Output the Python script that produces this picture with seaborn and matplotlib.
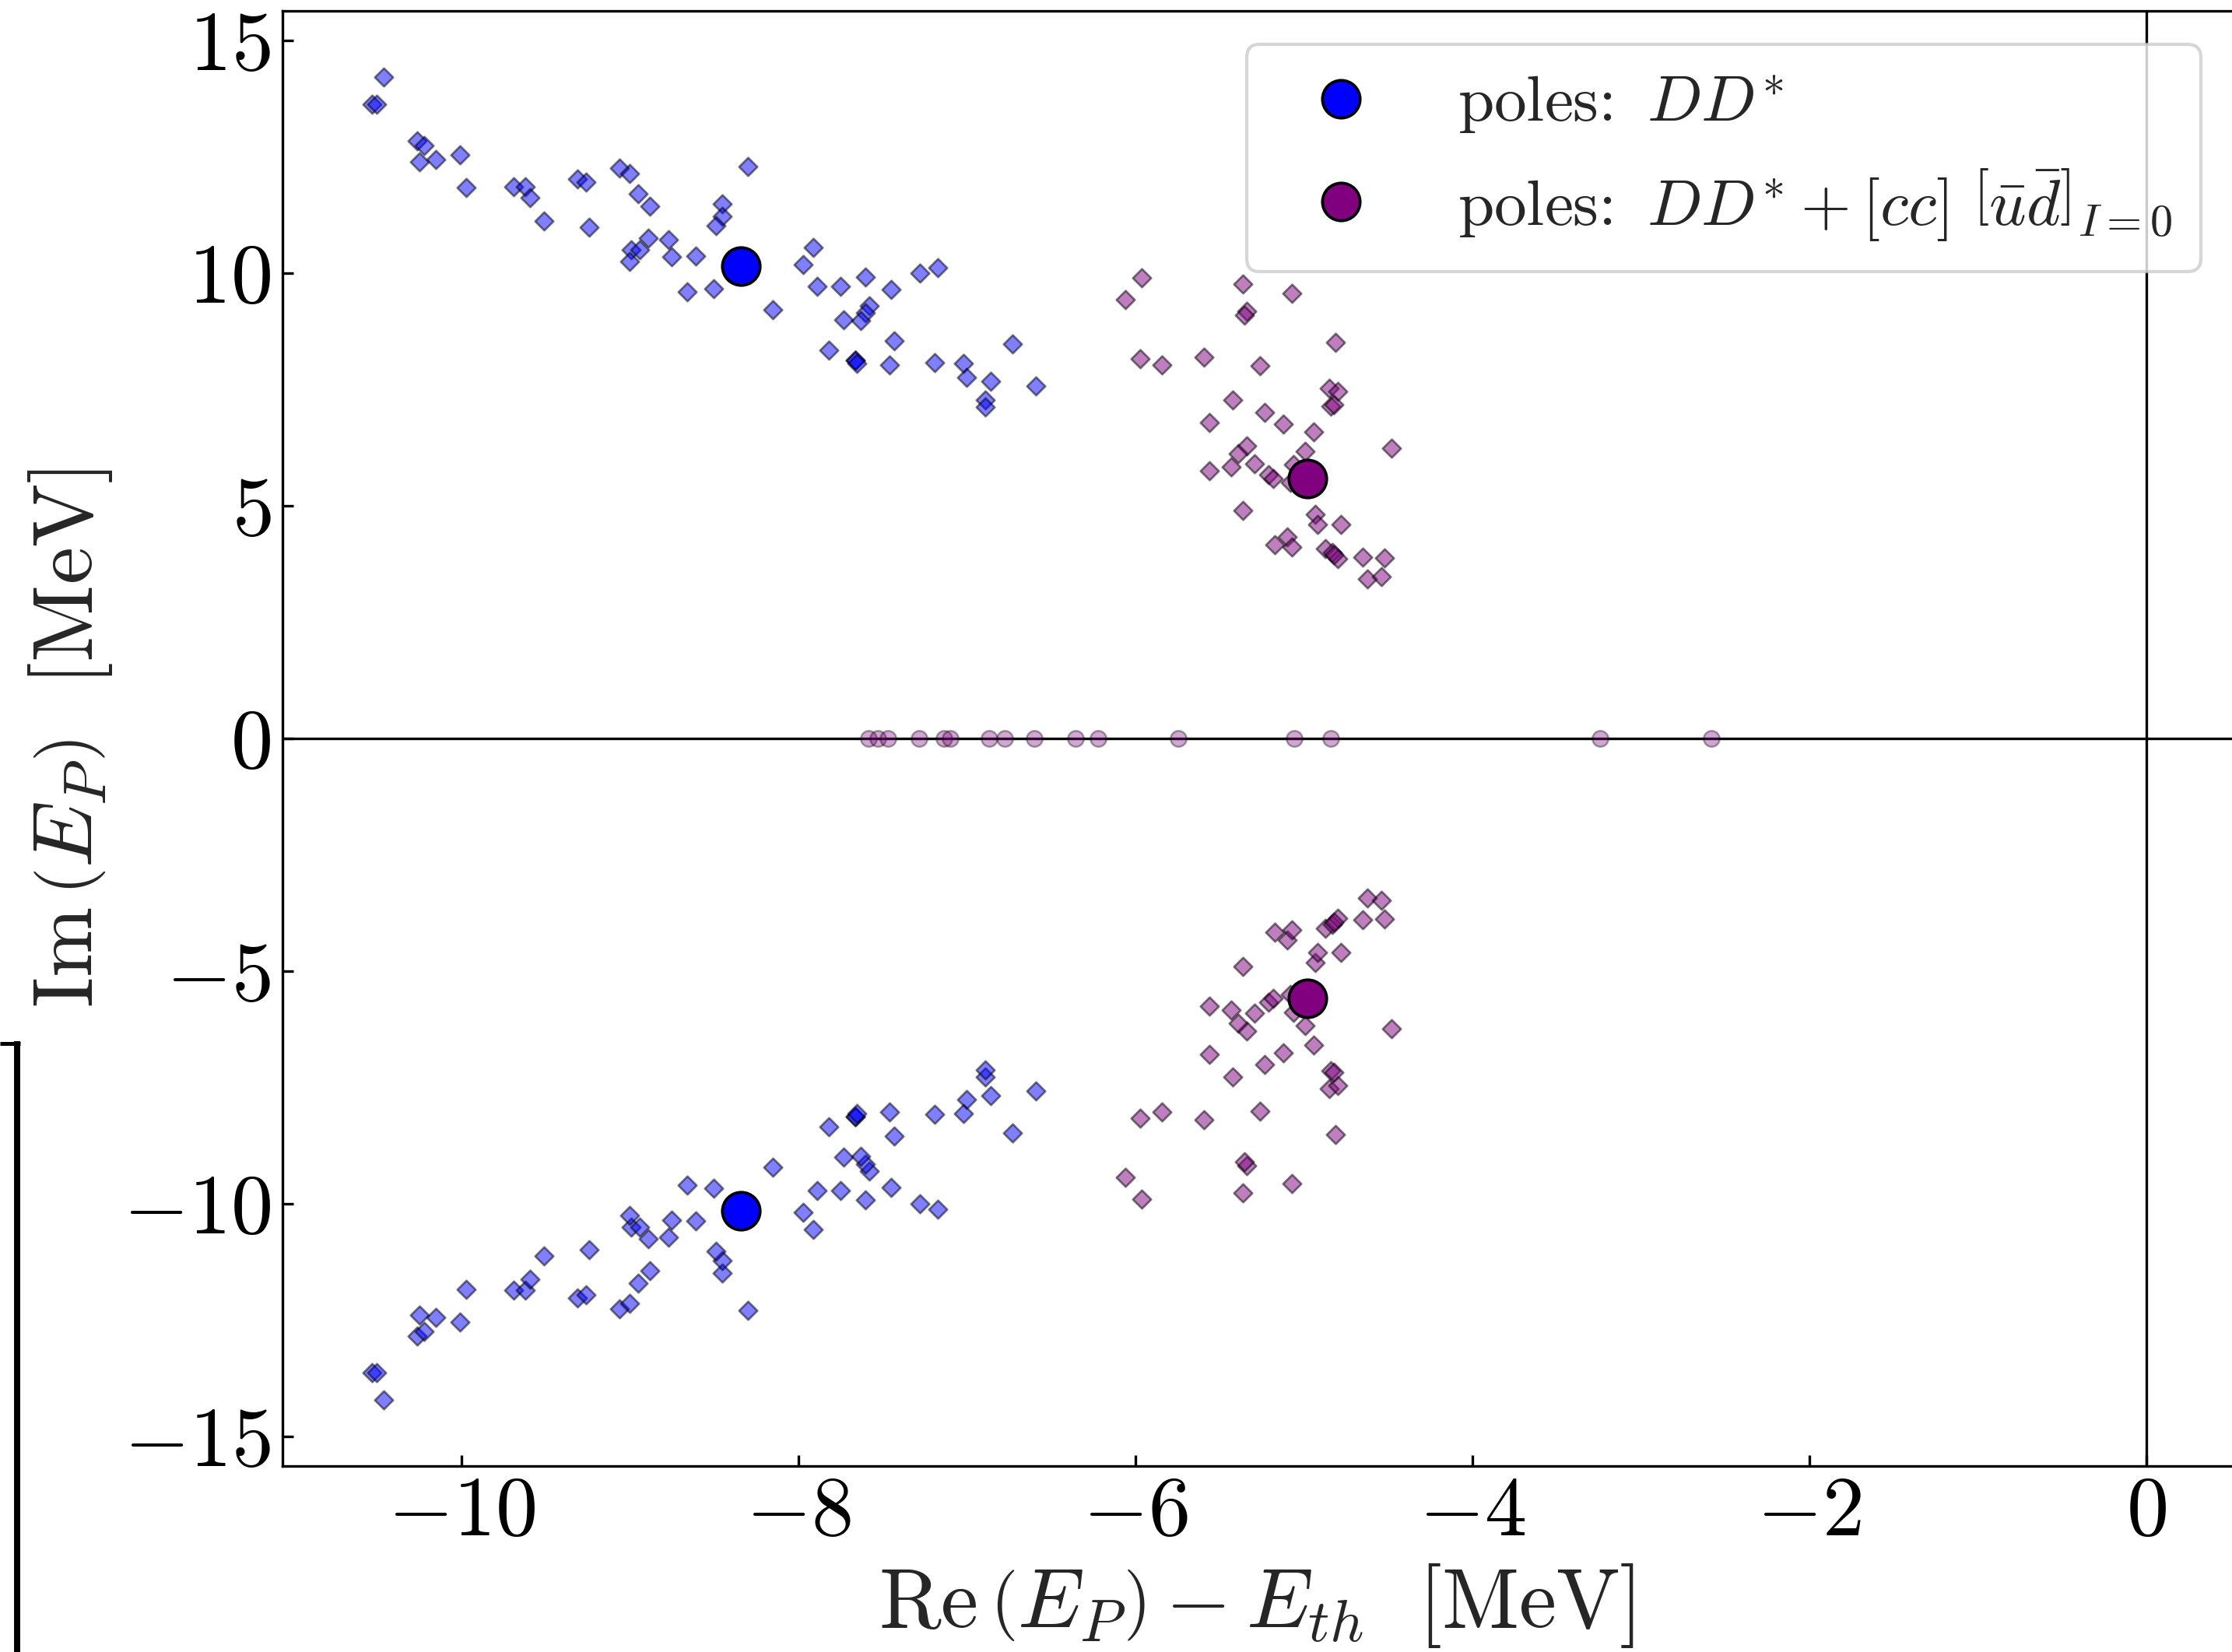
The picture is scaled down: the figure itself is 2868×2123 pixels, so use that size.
import numpy as np
import pandas as pd
import matplotlib
matplotlib.use("Agg")
import matplotlib.pyplot as plt
from matplotlib.lines import Line2D
import seaborn as sns

# ---------------- data (upper half-plane; lower half are the conjugate poles) ----------------
dd_re = [-10.46, -10.53, -10.50, -10.26, -10.22, -10.25, -10.15, -10.01, -9.97, -9.69,
         -9.62, -9.59, -9.51, -9.31, -9.26, -9.24, -9.06, -9.00, -8.95, -8.88,
         -8.89, -8.77, -8.99, -8.94, -9.00, -8.75, -8.61, -8.66, -8.50, -8.30,
         -8.45, -8.45, -8.49, -8.15, -7.91, -7.97, -7.89, -7.75, -7.60, -7.45,
         -7.28, -7.17, -7.58, -7.60, -7.63, -7.73, -7.82, -7.66, -7.66, -7.65,
         -7.43, -7.46, -7.19, -7.02, -7.00, -6.86, -6.89, -6.89, -6.73, -6.59]
dd_im = [14.21, 13.62, 13.62, 12.83, 12.73, 12.39, 12.43, 12.53, 11.84, 11.85,
         11.85, 11.62, 11.11, 12.02, 11.95, 10.98, 12.25, 12.13, 11.70, 11.44,
         10.75, 10.71, 10.49, 10.49, 10.24, 10.35, 10.36, 9.59, 9.66, 12.29,
         11.49, 11.21, 11.01, 9.21, 10.54, 10.18, 9.71, 9.72, 9.91, 9.64,
         10.00, 10.12, 9.30, 9.14, 8.97, 9.00, 8.34, 8.13, 8.13, 8.06,
         8.55, 8.02, 8.07, 8.06, 7.76, 7.68, 7.28, 7.12, 8.48, 7.57]

tq_re = [-5.96, -6.06, -5.36, -5.34, -5.35, -5.07, -4.81, -5.97, -5.84, -5.59,
         -5.26, -4.85, -4.80, -4.84, -4.82, -5.42, -5.23, -5.56, -5.12, -4.94,
         -4.48, -5.34, -5.39, -4.99, -5.06, -5.56, -5.43, -5.29, -5.21, -5.18,
         -5.08, -5.36, -4.93, -4.92, -4.78, -5.10, -5.17, -5.07, -4.87, -4.83,
         -4.80, -4.82, -4.65, -4.52, -4.62, -4.54]
tq_im = [9.89, 9.43, 9.77, 9.18, 9.10, 9.56, 8.51, 8.15, 8.03, 8.19,
         8.00, 7.53, 7.45, 7.14, 7.17, 7.28, 7.00, 6.78, 6.76, 6.58,
         6.24, 6.28, 6.11, 6.17, 5.89, 5.75, 5.84, 5.90, 5.67, 5.58,
         5.50, 4.89, 4.82, 4.59, 4.59, 4.33, 4.17, 4.12, 4.08, 4.00,
         3.86, 3.94, 3.90, 3.87, 3.42, 3.48]

# virtual-state poles on the real axis
real_re = [-7.585, -7.527, -7.469, -7.281, -7.134, -7.100, -6.868, -6.776, -6.601,
           -6.355, -6.222, -5.744, -5.057, -4.838, -3.240, -2.580]
real_im = [0.0] * len(real_re)

# central poles
pole_dd = (-8.34, 10.14)
pole_tq = (-4.98, 5.59)

legend_labels = [r"poles: $\,DD^{*}$",
                 r"poles: $\,DD^{*}+[cc]\ \left[\bar{u}\bar{d}\right]_{I=0}$"]

xticks = [-10, -8, -6, -4, -2, 0]
yticks = [-15, -10, -5, 0, 5, 10, 15]

# ---------------- tables ----------------
df_dd = pd.DataFrame({"re": dd_re + dd_re, "im": dd_im + [-v for v in dd_im]})
df_tq = pd.DataFrame({"re": tq_re + tq_re, "im": tq_im + [-v for v in tq_im]})
df_real = pd.DataFrame({"re": real_re, "im": real_im})
df_pdd = pd.DataFrame({"re": [pole_dd[0], pole_dd[0]], "im": [pole_dd[1], -pole_dd[1]]})
df_ptq = pd.DataFrame({"re": [pole_tq[0], pole_tq[0]], "im": [pole_tq[1], -pole_tq[1]]})

# ---------------- style ----------------
sns.set_theme(style="ticks")
plt.rcParams.update({
    "font.family": "serif",
    "font.serif": ["cmr10", "DejaVu Serif"],
    "mathtext.fontset": "cm",
    "axes.formatter.use_mathtext": True,
    "axes.unicode_minus": True,
    "axes.edgecolor": "black",
    "axes.linewidth": 0.8,
    "xtick.direction": "in",
    "ytick.direction": "in",
    "xtick.color": "black",
    "ytick.color": "black",
    "xtick.major.size": 3.4,
    "ytick.major.size": 3.4,
    "xtick.major.width": 0.8,
    "ytick.major.width": 0.8,
})

W, H = 2868, 2123
DPI = 300
fig = plt.figure(figsize=(W / DPI, H / DPI), dpi=DPI)

xmin, xmax = -11.062, 0.55
ymin, ymax = -15.63, 15.63
left_px, bottom_px, top_px = 362.8, 1884.0, 14.0
px_per_x = 216.5
width_px = (xmax - xmin) * px_per_x
height_px = bottom_px - top_px
ax = fig.add_axes([left_px / W, (H - bottom_px) / H, width_px / W, height_px / H])

ax.axhline(0, color="black", lw=0.8, zorder=1)
ax.axvline(0, color="black", lw=0.8, zorder=1)

sns.scatterplot(data=df_real, x="re", y="im", ax=ax, marker="o", s=24, color="purple",
                alpha=0.35, edgecolor="black", linewidth=0.6, legend=False, zorder=2)
sns.scatterplot(data=df_dd, x="re", y="im", ax=ax, marker="D", s=16, color="blue",
                alpha=0.5, edgecolor="black", linewidth=0.65, legend=False, zorder=3)
sns.scatterplot(data=df_tq, x="re", y="im", ax=ax, marker="D", s=16, color="purple",
                alpha=0.5, edgecolor="black", linewidth=0.65, legend=False, zorder=3)
sns.scatterplot(data=df_pdd, x="re", y="im", ax=ax, marker="o", s=135, color="blue",
                edgecolor="black", linewidth=0.9, legend=False, zorder=5)
sns.scatterplot(data=df_ptq, x="re", y="im", ax=ax, marker="o", s=135, color="purple",
                edgecolor="black", linewidth=0.9, legend=False, zorder=5)

ax.set_xlim(xmin, xmax)
ax.set_ylim(ymin, ymax)
ax.set_xticks(xticks)
ax.set_yticks(yticks)
ax.tick_params(axis="x", labelsize=26, pad=3)
ax.tick_params(axis="y", labelsize=26, pad=3.5)
ax.set_xlabel(r"$\mathrm{Re}\,\left(E_P\right)-E_{th}\ \ [\mathrm{MeV}]$", fontsize=26, va="center")
ax.set_ylabel(r"$\mathrm{Im}\,\left(E_P\right)\ \ [\mathrm{MeV}]$", fontsize=26, va="center")
ax.xaxis.set_label_coords((0.5 * (615 + 1150) * 1.829 - left_px) / width_px,
                          (bottom_px - 2063) / height_px)
ax.yaxis.set_label_coords((91 - left_px) / width_px, 0.5)

handles = [Line2D([], [], ls="none", marker="o", markersize=11.6, markerfacecolor="blue",
                  markeredgecolor="black", markeredgewidth=0.9),
           Line2D([], [], ls="none", marker="o", markersize=11.6, markerfacecolor="purple",
                  markeredgecolor="black", markeredgewidth=0.9)]
leg = ax.legend(handles, legend_labels, loc="upper right", fontsize=20,
                bbox_to_anchor=((2828 - left_px) / width_px, (bottom_px - 57) / height_px),
                borderaxespad=0.0,
                frameon=True, fancybox=True, framealpha=0.8, edgecolor="#cccccc",
                borderpad=0.45, labelspacing=0.47, handletextpad=0.8)

# fragment of a neighbouring panel frame at the lower-left edge
fig.add_artist(Line2D([22 / W, 22 / W], [0, (H - 1338) / H], color="black", lw=1.9,
                      transform=fig.transFigure, solid_capstyle="butt"))
fig.add_artist(Line2D([0, 26 / W], [(H - 1340.5) / H, (H - 1340.5) / H], color="black", lw=1.2,
                      transform=fig.transFigure, solid_capstyle="butt"))

fig.savefig("out.png", dpi=DPI)
